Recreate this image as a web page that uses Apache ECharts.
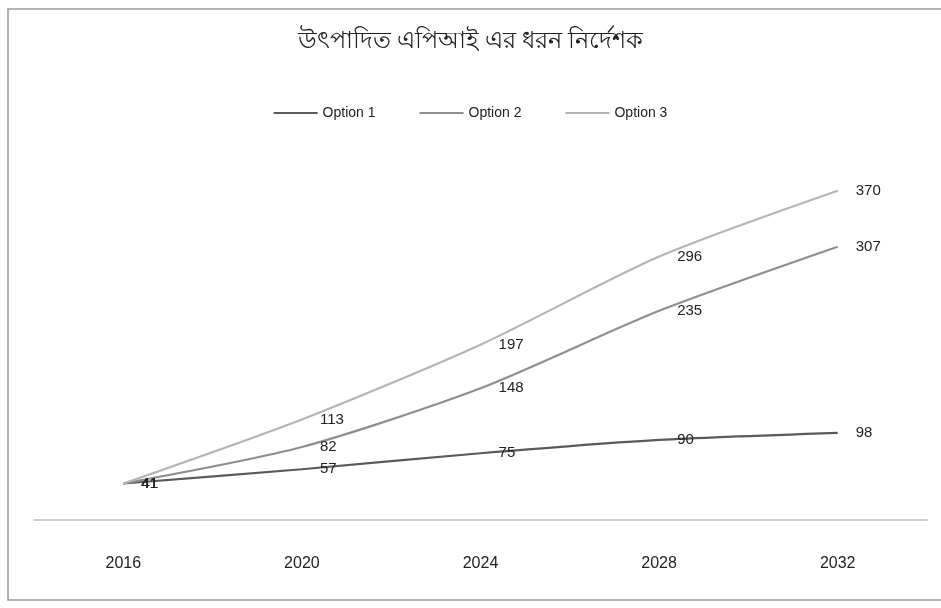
<!DOCTYPE html>
<html>
<head>
<meta charset="utf-8">
<script src="https://cdn.jsdelivr.net/npm/echarts@6/dist/echarts.min.js"></script>
<style>
  html, body { margin: 0; padding: 0; background: #fff; }
  #chart { width: 941px; height: 608px; }
</style>
</head>
<body>
<div id="chart"></div>
<script>
var years = ['2016', '2020', '2024', '2028', '2032'];
var option1 = [41, 57, 75, 90, 98];
var option2 = [41, 82, 148, 235, 307];
var option3 = [41, 113, 197, 296, 370];
var seriesNames = ['Option 1', 'Option 2', 'Option 3'];
var lineColors = ['#5a5a5a', '#8e8e8e', '#b4b4b4'];

var chartDom = document.getElementById('chart');
var myChart = echarts.init(chartDom);

var font = '"Liberation Sans Narrow", "Liberation Sans", Arial, sans-serif';

function makeSeries(name, data, color) {
    return {
        name: name,
        type: 'line',
        data: data,
        smooth: 0.25,
        showSymbol: true,
        symbol: 'circle',
        symbolSize: 0.1,
        lineStyle: { color: color, width: 2.2 },
        itemStyle: { color: color },
        label: {
            show: true,
            position: 'right',
            distance: 18,
            color: '#222',
            fontFamily: font,
            fontSize: 15
        },
        emphasis: { disabled: true }
    };
}

var option = {
    backgroundColor: '#fff',
    animation: false,
    title: {
        text: 'উৎপাদিত এপিআই এর ধরন নির্দেশক',
        left: 'center',
        top: 24,
        textStyle: { color: '#222', fontSize: 24, fontWeight: 'normal', fontFamily: '"Noto Sans", sans-serif' }
    },
    legend: {
        data: seriesNames,
        top: 101,
        left: 'center',
        itemWidth: 44,
        itemHeight: 2,
        itemGap: 44,
        icon: 'rect',
        textStyle: { color: '#222', fontSize: 14, fontFamily: font }
    },
    graphic: [{
        type: 'rect',
        shape: { x: 8, y: 9, width: 960, height: 591 },
        style: { fill: 'none', stroke: '#9a9a9a', lineWidth: 1.5 },
        silent: true
    }],
    grid: { left: 34, right: 14, top: 164, bottom: 88 },
    xAxis: {
        type: 'category',
        data: years,
        boundaryGap: true,
        axisLine: { lineStyle: { color: '#bdbdbd', width: 1.5 } },
        axisTick: { show: false },
        axisLabel: { color: '#222', fontSize: 16, fontFamily: font, margin: 36 }
    },
    yAxis: {
        type: 'value',
        min: 0,
        max: 400,
        show: false,
        splitLine: { show: false }
    },
    series: [
        makeSeries(seriesNames[0], option1, lineColors[0]),
        makeSeries(seriesNames[1], option2, lineColors[1]),
        makeSeries(seriesNames[2], option3, lineColors[2])
    ]
};

option && myChart.setOption(option);
</script>
</body>
</html>
